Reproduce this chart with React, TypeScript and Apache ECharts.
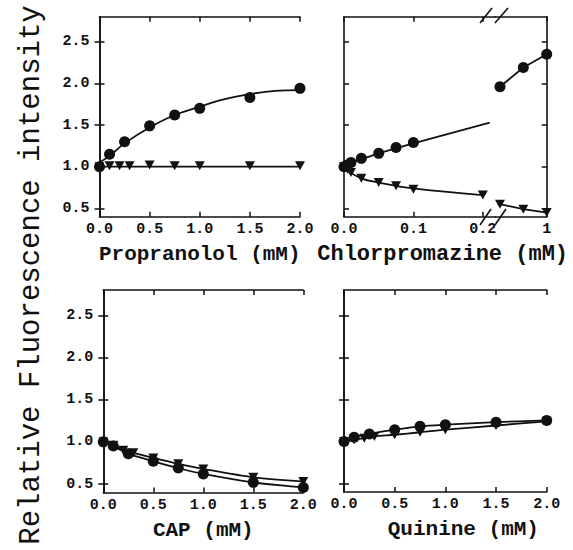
import { useEffect, useRef } from "react";
import * as echarts from "echarts";

// ---------- data ----------
const yTicks = [0.5, 1.0, 1.5, 2.0, 2.5];
const concTicks = [0, 0.5, 1.0, 1.5, 2.0];
const cpzLowTicks = [0, 0.1, 0.2];
const cpzHighTicks = [1];

// Propranolol
const propCircleX = [0, 0.1, 0.25, 0.5, 0.75, 1.0, 1.5, 2.0];
const propCircleY = [1.0, 1.15, 1.3, 1.49, 1.62, 1.7, 1.83, 1.94];
const propTriX = [0, 0.1, 0.2, 0.3, 0.5, 0.75, 1.0, 1.5, 2.0];
const propTriY = [1.0, 1.01, 1.01, 1.01, 1.02, 1.01, 1.01, 1.01, 1.01];
const propCircleFitX = [0, 0.1, 0.25, 0.5, 0.75, 1.0, 1.25, 1.5, 1.75, 2.0];
const propCircleFitY = [1.05, 1.13, 1.28, 1.47, 1.62, 1.72, 1.81, 1.87, 1.91, 1.92];
const propTriFitX = [0, 2.0];
const propTriFitY = [1.0, 1.0];

// Chlorpromazine (low range, before the axis break)
const cpzCircleX = [0, 0.005, 0.01, 0.025, 0.05, 0.075, 0.1];
const cpzCircleY = [1.0, 1.02, 1.05, 1.1, 1.16, 1.23, 1.29];
const cpzTriX = [0, 0.005, 0.01, 0.025, 0.05, 0.075, 0.1, 0.2];
const cpzTriY = [1.0, 0.97, 0.93, 0.86, 0.81, 0.77, 0.73, 0.66];
const cpzCircleFitX = [0, 0.025, 0.05, 0.1, 0.21];
const cpzCircleFitY = [1.02, 1.09, 1.16, 1.28, 1.53];
const cpzTriFitX = [0, 0.025, 0.05, 0.1, 0.2];
const cpzTriFitY = [0.98, 0.86, 0.81, 0.74, 0.66];
// Chlorpromazine (high range, after the axis break)
const cpzHighX = [0.5, 0.75, 1.0];
const cpzHighCircleY = [1.96, 2.19, 2.35];
const cpzHighTriY = [0.55, 0.49, 0.45];

// CAP
const capCircleX = [0, 0.1, 0.25, 0.5, 0.75, 1.0, 1.5, 2.0];
const capCircleY = [1.0, 0.95, 0.86, 0.77, 0.69, 0.62, 0.52, 0.46];
const capTriX = [0, 0.1, 0.2, 0.3, 0.5, 0.75, 1.0, 1.5, 2.0];
const capTriY = [1.0, 0.96, 0.9, 0.87, 0.81, 0.74, 0.68, 0.58, 0.53];

// Quinine
const quiCircleX = [0, 0.1, 0.25, 0.5, 0.75, 1.0, 1.5, 2.0];
const quiCircleY = [1.0, 1.05, 1.09, 1.14, 1.18, 1.2, 1.23, 1.25];
const quiTriX = [0, 0.1, 0.2, 0.3, 0.5, 0.75, 1.0, 1.5, 2.0];
const quiTriY = [1.0, 1.02, 1.04, 1.06, 1.08, 1.11, 1.14, 1.19, 1.24];

// ---------- styling ----------
const INK = "#111";
const MONO = "'Liberation Mono', 'Courier New', monospace";
const tickFont = { fontFamily: MONO, fontWeight: "bold" as const, fontSize: 15, color: INK };
const nameFont = { fontFamily: MONO, fontWeight: "bold" as const, fontSize: 21, color: INK };
const TRI = "path://M0,0L10,0L5,9Z";

const zip = (xs: number[], ys: number[]) => xs.map((x, i) => [x, ys[i]]);

function App() {
  const ref = useRef<HTMLDivElement>(null);
  useEffect(() => {
    if (!ref.current) return;
    const chart = echarts.init(ref.current, undefined, { renderer: "svg" });

    const Y0 = 0.4, Y1 = 2.8;
    const grids = [
      { left: 99.5, top: 16.7, width: 200.5, height: 200 }, // propranolol
      { left: 344, top: 16.7, width: 151.3, height: 200 }, // cpz low
      { left: 495.3, top: 16.7, width: 51.4, height: 200 }, // cpz high
      { left: 103.3, top: 290, width: 200, height: 202.5 }, // CAP
      { left: 344, top: 290, width: 202.7, height: 202 }, // quinine
    ];
    const xCfg = [
      { min: 0, max: 2, ticks: concTicks, name: "Propranolol (mM)", pad: [0, 0, 0, 0], size: 21 },
      { min: 0, max: 0.218, ticks: cpzLowTicks, name: "Chlorpromazine (mM)", pad: [0, 0, 0, 46], size: 22 },
      { min: 0.45, max: 1, ticks: cpzHighTicks, name: "", pad: [0, 0, 0, 0], size: 21 },
      { min: 0, max: 2, ticks: concTicks, name: "CAP (mM)", pad: [0, 0, 0, 0], size: 21 },
      { min: 0, max: 2, ticks: concTicks, name: "Quinine (mM)", pad: [0, 0, 0, 36], size: 21 },
    ];
    const axisLine = { show: true, lineStyle: { color: INK, width: 1.6 } };
    const xAxis: any[] = [];
    const yAxis: any[] = [];
    grids.forEach((_, i) => {
      const c = xCfg[i];
      xAxis.push({
        type: "value", gridIndex: i, position: "bottom", min: c.min, max: c.max,
        axisLine,
        axisTick: { show: true, inside: true, length: 5, customValues: c.ticks, lineStyle: { color: INK, width: 1.5 } },
        axisLabel: {
          show: true, customValues: c.ticks, margin: 5, ...tickFont,
          formatter: (v: number) => (i === 2 ? String(Math.round(v)) : v.toFixed(1)),
        },
        splitLine: { show: false },
        name: c.name, nameLocation: "middle", nameGap: 27,
        nameTextStyle: { ...nameFont, fontSize: c.size, padding: c.pad },
      });
      xAxis.push({
        type: "value", gridIndex: i, position: "top", min: c.min, max: c.max,
        axisLine,
        axisTick: { show: true, inside: true, length: 5, customValues: c.ticks, lineStyle: { color: INK, width: 1.5 } },
        axisLabel: { show: false },
        splitLine: { show: false },
      });
      const showLeft = i !== 2;
      const showRight = i !== 1;
      const leftLabels = i === 0 || i === 3;
      yAxis.push({
        type: "value", gridIndex: i, position: "left", min: Y0, max: Y1,
        axisLine: { ...axisLine, show: showLeft },
        axisTick: { show: showLeft, inside: true, length: 5, customValues: yTicks, lineStyle: { color: INK, width: 1.5 } },
        axisLabel: { show: leftLabels, customValues: yTicks, margin: 10, ...tickFont, formatter: (v: number) => v.toFixed(1) },
        splitLine: { show: false },
      });
      yAxis.push({
        type: "value", gridIndex: i, position: "right", min: Y0, max: Y1,
        axisLine: { ...axisLine, show: showRight },
        axisTick: { show: showRight, inside: true, length: 5, customValues: yTicks, lineStyle: { color: INK, width: 1.5 } },
        axisLabel: { show: false },
        splitLine: { show: false },
      });
    });

    const ax = (i: number) => ({ xAxisIndex: 2 * i, yAxisIndex: 2 * i });
    const pts = (i: number, name: string, xs: number[], ys: number[], tri: boolean) => ({
      type: "scatter", name, ...ax(i), data: zip(xs, ys), clip: false,
      symbol: tri ? TRI : "circle", symbolSize: tri ? [10, 9] : 11,
      itemStyle: { color: INK, opacity: 1 }, z: 3,
    });
    const fit = (i: number, name: string, xs: number[], ys: number[], smooth: number) => ({
      type: "line", name, ...ax(i), data: zip(xs, ys), clip: false, smooth,
      showSymbol: false, symbol: "none", lineStyle: { color: INK, width: 1.8 }, z: 2,
    });
    const joined = (i: number, name: string, xs: number[], ys: number[], tri: boolean, smooth: number) => ({
      type: "line", name, ...ax(i), data: zip(xs, ys), clip: false, smooth,
      symbol: tri ? TRI : "circle", symbolSize: tri ? [10, 9] : 11, showSymbol: true,
      itemStyle: { color: INK, opacity: 1 }, lineStyle: { color: INK, width: 1.8 }, z: 3,
    });

    const series: any[] = [
      fit(0, "Propranolol fit ●", propCircleFitX, propCircleFitY, 0.4),
      fit(0, "Propranolol fit ▼", propTriFitX, propTriFitY, 0),
      pts(0, "Propranolol ●", propCircleX, propCircleY, false),
      pts(0, "Propranolol ▼", propTriX, propTriY, true),
      fit(1, "Chlorpromazine fit ●", cpzCircleFitX, cpzCircleFitY, 0.3),
      fit(1, "Chlorpromazine fit ▼", cpzTriFitX, cpzTriFitY, 0.4),
      pts(1, "Chlorpromazine ●", cpzCircleX, cpzCircleY, false),
      pts(1, "Chlorpromazine ▼", cpzTriX, cpzTriY, true),
      joined(2, "Chlorpromazine high ●", cpzHighX, cpzHighCircleY, false, 0),
      joined(2, "Chlorpromazine high ▼", cpzHighX, cpzHighTriY, true, 0),
      joined(3, "CAP ●", capCircleX, capCircleY, false, 0.3),
      joined(3, "CAP ▼", capTriX, capTriY, true, 0.3),
      joined(4, "Quinine ●", quiCircleX, quiCircleY, false, 0.3),
      joined(4, "Quinine ▼", quiTriX, quiTriY, true, 0.3),
    ];

    const slash = (x1: number, y1: number, x2: number, y2: number) => ({
      type: "line", shape: { x1, y1, x2, y2 }, style: { stroke: INK, lineWidth: 1.6 }, z: 10,
    });

    chart.setOption({
      animation: false,
      backgroundColor: "#fff",
      grid: grids.map((g) => ({ ...g, containLabel: false })),
      xAxis,
      yAxis,
      series,
      graphic: [
        {
          type: "text", x: 31, y: 275, rotation: Math.PI / 2,
          style: {
            text: "Relative Fluorescence intensity",
            fontFamily: MONO, fontSize: 29, fill: INK,
            textAlign: "center", textVerticalAlign: "middle",
          },
        },
        slash(480, 23, 492, 8),
        slash(495, 23, 508, 8),
        slash(480, 225, 491, 209),
        slash(495, 225, 506, 209),
      ],
    });
    return () => chart.dispose();
  }, []);
  return (
    <div
      ref={ref}
      style={{ position: "fixed", left: 0, top: 0, width: 573, height: 550, background: "#fff" }}
    />
  );
}

export default App;
